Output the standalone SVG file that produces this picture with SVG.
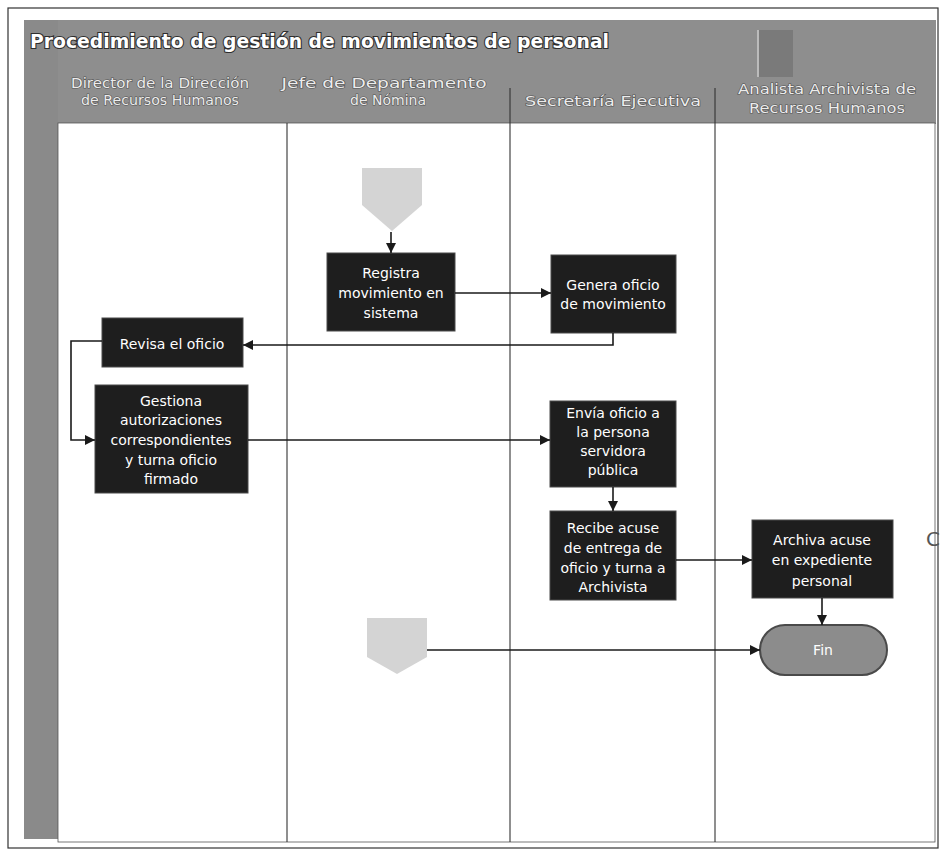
<svg xmlns="http://www.w3.org/2000/svg" width="940" height="863" viewBox="0 0 940 863">
<defs>
<marker id="ah" viewBox="0 0 10 10" refX="10" refY="5" markerWidth="10" markerHeight="10" markerUnits="userSpaceOnUse" orient="auto"><path d="M0,0 L10,5 L0,10 z" fill="#1a1a1a"/></marker>
</defs>
<style>
.box{fill:#1e1e1e;stroke:#4a4a4a;stroke-width:1}
.bt{font-family:"DejaVu Sans",sans-serif;font-size:14px;fill:#ffffff;text-anchor:middle}
.lane{stroke:#333;stroke-width:1.1}
.hl{font-family:"DejaVu Sans",sans-serif;font-size:14px;fill:#ececec;text-anchor:middle;stroke:#555;stroke-width:1.2;paint-order:stroke}
.title{font-family:"DejaVu Sans",sans-serif;font-weight:bold;font-size:19px;fill:#ffffff;stroke:#2e2e2e;stroke-width:2.2;paint-order:stroke}
.conn{fill:none;stroke:#1a1a1a;stroke-width:1.6}
.off{fill:#d4d4d4}
</style>
<rect x="0" y="0" width="940" height="863" fill="#ffffff"/>
<g id="frame">
<rect x="8" y="8" width="930" height="840" fill="none" stroke="#333" stroke-width="1.2"/>
<rect x="24" y="20" width="912" height="104" fill="#8e8e8e"/>
<rect x="24" y="20" width="34" height="819" fill="#8a8a8a"/>
<rect x="58" y="123" width="877" height="719" fill="#ffffff" stroke="#555" stroke-width="0.8"/>
<rect x="757" y="30" width="36" height="47" fill="#7a7a7a"/>
<line x1="758" y1="30" x2="758" y2="77" stroke="#e8e8e8" stroke-width="1.2"/>
<text class="title" x="30" y="48" textLength="579" lengthAdjust="spacingAndGlyphs">Procedimiento de gestión de movimientos de personal</text>
</g>
<g id="lanes">
<line class="lane" x1="287" y1="123" x2="287" y2="842"/>
<line class="lane" x1="510" y1="88" x2="510" y2="842"/>
<line class="lane" x1="715" y1="88" x2="715" y2="842"/>
<text class="hl" x="160" y="88" textLength="178" lengthAdjust="spacingAndGlyphs">Director de la Dirección</text>
<text class="hl" x="160" y="105" textLength="158" lengthAdjust="spacingAndGlyphs">de Recursos Humanos</text>
<text class="hl" x="384" y="88" textLength="205" lengthAdjust="spacingAndGlyphs">Jefe de Departamento</text>
<text class="hl" x="388" y="105">de Nómina</text>
<text class="hl" x="613" y="106" textLength="176" lengthAdjust="spacingAndGlyphs">Secretaría Ejecutiva</text>
<text class="hl" x="827" y="94" textLength="178" lengthAdjust="spacingAndGlyphs">Analista Archivista de</text>
<text class="hl" x="827" y="113" textLength="156" lengthAdjust="spacingAndGlyphs">Recursos Humanos</text>
</g>
<g id="start1"><polygon class="off" points="362,168 422,168 422,205 392,231 362,205"/></g>
<g id="registra"><rect class="box" x="327" y="253" width="128" height="78"/>
<text class="bt" x="391" y="278">Registra</text><text class="bt" x="391" y="298">movimiento en</text><text class="bt" x="391" y="318">sistema</text></g>
<g id="genera"><rect class="box" x="551" y="255" width="125" height="78"/>
<text class="bt" x="613" y="290">Genera oficio</text><text class="bt" x="613" y="309">de movimiento</text></g>
<g id="revisa"><rect class="box" x="102" y="318" width="141" height="49"/>
<text class="bt" x="172" y="349">Revisa el oficio</text></g>
<g id="gestiona"><rect class="box" x="95" y="385" width="153" height="108"/>
<text class="bt" x="171" y="406">Gestiona</text><text class="bt" x="171" y="425">autorizaciones</text><text class="bt" x="171" y="445">correspondientes</text><text class="bt" x="171" y="465">y turna oficio</text><text class="bt" x="171" y="484">firmado</text></g>
<g id="envia"><rect class="box" x="550" y="401" width="126" height="86"/>
<text class="bt" x="613" y="418">Envía oficio a</text><text class="bt" x="613" y="437">la persona</text><text class="bt" x="613" y="456">servidora</text><text class="bt" x="613" y="475">pública</text></g>
<g id="recibe"><rect class="box" x="550" y="511" width="126" height="89"/>
<text class="bt" x="613" y="533">Recibe acuse</text><text class="bt" x="613" y="553">de entrega de</text><text class="bt" x="613" y="573">oficio y turna a</text><text class="bt" x="613" y="592">Archivista</text></g>
<g id="archiva"><rect class="box" x="752" y="520" width="141" height="78"/>
<text class="bt" x="822" y="545">Archiva acuse</text><text class="bt" x="822" y="565">en expediente</text><text class="bt" x="822" y="586">personal</text></g>
<g id="start2"><polygon class="off" points="367,618 427,618 427,657 397,674 367,657"/></g>
<g id="fin"><rect x="760" y="625" width="127" height="50" rx="25" ry="25" fill="#8c8c8c" stroke="#4a4a4a" stroke-width="2"/>
<text class="bt" x="823" y="655">Fin</text></g>
<text x="926" y="546" font-family="DejaVu Sans, sans-serif" font-size="20" fill="#555">C</text>
<g id="connectors">
<path class="conn" d="M391,232 L391,253" marker-end="url(#ah)"/>
<path class="conn" d="M455,293 L551,293" marker-end="url(#ah)"/>
<path class="conn" d="M613,333 L613,345 L243,345" marker-end="url(#ah)"/>
<path class="conn" d="M102,341 L71,341 L71,440 L95,440" marker-end="url(#ah)"/>
<path class="conn" d="M248,440 L550,440" marker-end="url(#ah)"/>
<path class="conn" d="M613,487 L613,511" marker-end="url(#ah)"/>
<path class="conn" d="M676,560 L752,560" marker-end="url(#ah)"/>
<path class="conn" d="M822,598 L822,625" marker-end="url(#ah)"/>
<path class="conn" d="M427,650 L760,650" marker-end="url(#ah)"/>
</g>
</svg>
